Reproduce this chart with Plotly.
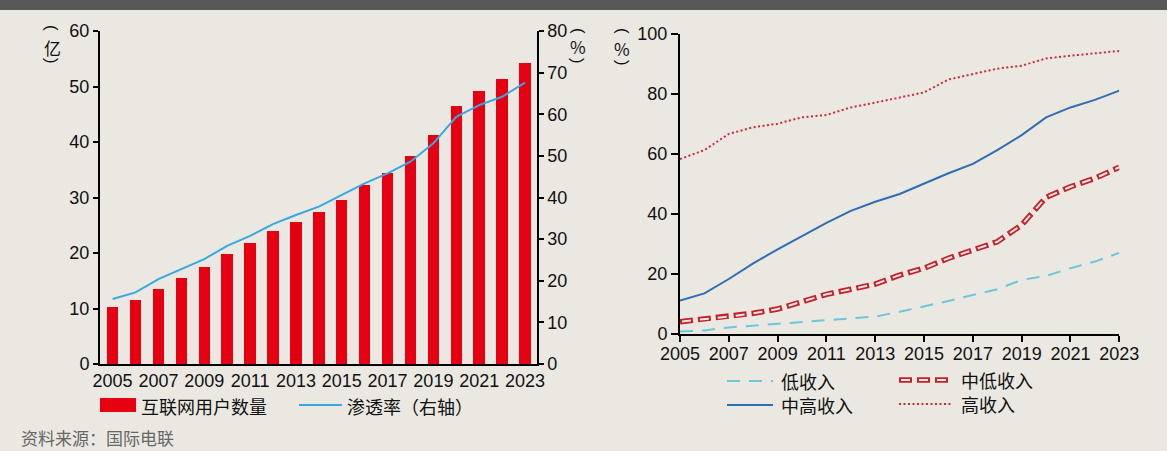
import plotly.graph_objects as go

W, H = 1167, 451

# ---------------- data ----------------
years = list(range(2005, 2024))
users = [10.2, 11.5, 13.6, 15.5, 17.5, 19.9, 21.8, 23.9, 25.6, 27.4,
         29.5, 32.2, 34.4, 37.4, 41.3, 46.5, 49.2, 51.3, 54.2]          # 亿
penetration = [15.6, 17.2, 20.4, 22.8, 25.2, 28.4, 30.8, 33.6, 35.8, 37.8,
               40.6, 43.4, 45.8, 48.6, 53.0, 59.4, 62.2, 64.2, 67.6]    # %
low_income = [0.8, 1.2, 2.2, 2.8, 3.2, 3.8, 4.4, 5.0, 5.8, 7.4,
              9.1, 11.0, 13.0, 14.9, 18.0, 19.3, 21.9, 24.1, 27.0]
lower_mid = [4.1, 4.9, 5.8, 6.9, 8.3, 10.8, 13.2, 14.9, 16.6, 19.6,
             21.9, 25.2, 28.0, 30.7, 36.3, 45.5, 49.0, 51.8, 55.5]
upper_mid = [11.1, 13.5, 18.3, 23.5, 28.2, 32.6, 37.0, 41.0, 44.0, 46.6,
             50.1, 53.5, 56.6, 61.2, 66.2, 72.1, 75.4, 77.9, 81.0]
high_income = [58.2, 61.2, 66.6, 68.8, 70.0, 72.1, 72.9, 75.4, 77.0, 78.8,
               80.4, 84.7, 86.5, 88.3, 89.3, 91.7, 92.6, 93.4, 94.2]
xticks = list(range(2005, 2024, 2))
left_ticks = [0, 10, 20, 30, 40, 50, 60]
right_ticks = [0, 10, 20, 30, 40, 50, 60, 70, 80]
share_ticks = [0, 20, 40, 60, 80, 100]

# ---------------- styles ----------------
BG = "#EBE8E2"
RED_BAR = "#E60012"
BLUE_LINE = "#3AA8E0"
CYAN = "#6CC6DC"
RED2 = "#C4212E"
BLUE2 = "#2F6DB5"
RED_DOT = "#D0283A"
FONT = "Liberation Sans, Arial, Noto Sans CJK SC"
CJK = "Noto Sans CJK SC, Liberation Sans"
FS = 18


def px(x):
    return x / W


def py(y):
    return 1 - y / H


fig = go.Figure()

# left chart
fig.add_trace(go.Bar(x=years, y=users, marker=dict(color=RED_BAR, line=dict(width=0)),
                     width=0.5, xaxis="x", yaxis="y", showlegend=False))
fig.add_trace(go.Scatter(x=years, y=penetration, mode="lines",
                         line=dict(color=BLUE_LINE, width=2),
                         xaxis="x", yaxis="y2", showlegend=False))

# right chart
fig.add_trace(go.Scatter(x=years, y=low_income, mode="lines",
                         line=dict(color=CYAN, width=2, dash="13px,9px"),
                         xaxis="x2", yaxis="y3", showlegend=False))
fig.add_trace(go.Scatter(x=years, y=lower_mid, mode="lines",
                         line=dict(color=RED2, width=5.5, dash="13px,5px"),
                         xaxis="x2", yaxis="y3", showlegend=False))
fig.add_trace(go.Scatter(x=years, y=lower_mid, mode="lines",
                         line=dict(color=BG, width=2, dash="0px,2px,9px,7px"),
                         xaxis="x2", yaxis="y3", showlegend=False))
fig.add_trace(go.Scatter(x=years, y=upper_mid, mode="lines",
                         line=dict(color=BLUE2, width=2),
                         xaxis="x2", yaxis="y3", showlegend=False))
fig.add_trace(go.Scatter(x=years, y=high_income, mode="lines",
                         line=dict(color=RED_DOT, width=2, dash="2px,2.5px"),
                         xaxis="x2", yaxis="y3", showlegend=False))

axis_common = dict(showgrid=False, zeroline=False, showline=True, linecolor="black",
                   linewidth=2, tickcolor="black", tickwidth=2, automargin=False,
                   tickfont=dict(family=FONT, size=FS, color="#111"))

fig.update_layout(
    template="none",
    width=W, height=H, margin=dict(l=0, r=0, t=0, b=0, pad=0, autoexpand=False),
    paper_bgcolor=BG, plot_bgcolor=BG, bargap=0, showlegend=False,
    xaxis=dict(domain=[px(100), px(536.7)], range=[2004.45, 2023.51],
               tickvals=xticks, ticks="", ticklabelstandoff=-1,
               anchor="y", **axis_common),
    yaxis=dict(domain=[py(364), py(31)], range=[0, 60], tickvals=left_ticks,
               ticks="outside", ticklen=5, anchor="x", **axis_common),
    yaxis2=dict(overlaying="y", side="right", range=[0, 80], tickvals=right_ticks,
                ticks="outside", ticklen=5, anchor="x", **axis_common),
    xaxis2=dict(domain=[px(680), px(1119.3)], range=[2005, 2023],
                tickvals=xticks, ticks="outside", ticklen=6, ticklabelstandoff=-4,
                anchor="y3", **axis_common),
    yaxis3=dict(domain=[py(334), py(33.5)], range=[0, 100], tickvals=share_ticks,
                ticks="outside", ticklen=7, anchor="x2", **axis_common),
)

shapes = []
annotations = []

# top dark band
shapes.append(dict(type="rect", xref="paper", yref="paper", x0=0, x1=1,
                   y0=py(10), y1=1, fillcolor="#58585A", line=dict(width=0), layer="above"))


def unit_label(xc, y_open, y_mid, y_close, txt):
    annotations.append(dict(xref="paper", yref="paper", x=px(xc), y=py(y_open), text="(",
                            textangle=90, showarrow=False, xanchor="center", yanchor="middle",
                            font=dict(family=FONT, size=17, color="#111")))
    annotations.append(dict(xref="paper", yref="paper", x=px(xc), y=py(y_mid), text=txt,
                            showarrow=False, xanchor="center", yanchor="middle",
                            font=dict(family=CJK, size=17, color="#111")))
    annotations.append(dict(xref="paper", yref="paper", x=px(xc), y=py(y_close), text=")",
                            textangle=90, showarrow=False, xanchor="center", yanchor="middle",
                            font=dict(family=FONT, size=17, color="#111")))


unit_label(52, 28, 47, 61, "亿")
unit_label(578, 31, 46, 61, "%")
unit_label(622, 31, 48, 63, "%")


def legend_text(x, y, txt):
    annotations.append(dict(xref="paper", yref="paper", x=px(x), y=py(y), text=txt,
                            showarrow=False, xanchor="left", yanchor="middle",
                            font=dict(family=CJK, size=18, color="#111")))


# left legend
shapes.append(dict(type="rect", xref="paper", yref="paper", x0=px(100), x1=px(136),
                   y0=py(412), y1=py(398), fillcolor=RED_BAR, line=dict(width=0)))
legend_text(139, 406, "互联网用户数量")
shapes.append(dict(type="line", xref="paper", yref="paper", x0=px(299), x1=px(342),
                   y0=py(405), y1=py(405), line=dict(color=BLUE_LINE, width=2)))
legend_text(345, 406, "渗透率（右轴）")

# right legend
shapes.append(dict(type="line", xref="paper", yref="paper", x0=px(727), x1=px(773),
                   y0=py(381), y1=py(381), line=dict(color=CYAN, width=2, dash="13px,9px")))
legend_text(779, 381, "低收入")
shapes.append(dict(type="line", xref="paper", yref="paper", x0=px(727), x1=px(773),
                   y0=py(405), y1=py(405), line=dict(color=BLUE2, width=2)))
legend_text(779, 405, "中高收入")
shapes.append(dict(type="line", xref="paper", yref="paper", x0=px(899), x1=px(951),
                   y0=py(380), y1=py(380), line=dict(color=RED2, width=5.5, dash="13px,5px")))
shapes.append(dict(type="line", xref="paper", yref="paper", x0=px(899), x1=px(951),
                   y0=py(380), y1=py(380), line=dict(color=BG, width=2, dash="0px,2px,9px,7px")))
legend_text(959, 380, "中低收入")
shapes.append(dict(type="line", xref="paper", yref="paper", x0=px(899), x1=px(953),
                   y0=py(404), y1=py(404), line=dict(color=RED_DOT, width=2, dash="2px,2.5px")))
legend_text(959, 404, "高收入")

# source
annotations.append(dict(xref="paper", yref="paper", x=px(19), y=py(437), text="资料来源：国际电联",
                        showarrow=False, xanchor="left", yanchor="middle",
                        font=dict(family=CJK, size=17, color="#666")))

fig.update_layout(shapes=shapes, annotations=annotations)
fig.write_html("out.html")
